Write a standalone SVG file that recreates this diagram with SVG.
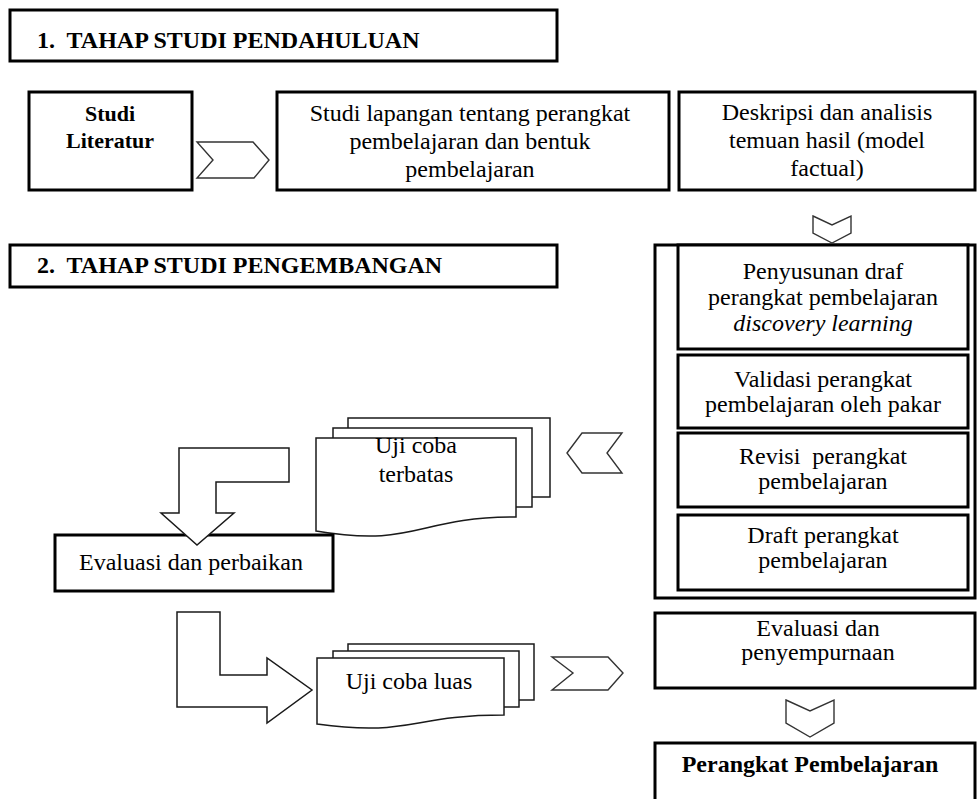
<svg xmlns="http://www.w3.org/2000/svg" width="977" height="799" viewBox="0 0 977 799">
<style>
 text { font-family: 'Liberation Serif', 'Tinos', 'DejaVu Serif', 'Times New Roman', serif; font-size: 24px; fill: #000; }
 .b { font-weight: bold; }
 .c { text-anchor: middle; }
 .i { font-style: italic; }
 .box { fill: #fff; stroke: #000; stroke-width: 3; }
 .doc { fill: #fff; stroke: #1a1a1a; stroke-width: 1.5; }
 .arr { fill: #fff; stroke: #1a1a1a; stroke-width: 1.5; stroke-linejoin: miter; }
 .chev { fill: #fff; stroke: #333; stroke-width: 1.4; stroke-linejoin: miter; }
</style>
<rect width="977" height="799" fill="#fff"/>

<g id="header1">
 <rect class="box" x="10" y="10" width="547" height="51"/>
 <text class="b" x="37" y="48" xml:space="preserve">1.  TAHAP STUDI PENDAHULUAN</text>
</g>

<g id="studi-literatur">
 <rect class="box" x="29" y="92" width="163" height="98"/>
 <text class="b c" x="110" y="121" style="font-size:22px">Studi</text>
 <text class="b c" x="110" y="148" style="font-size:22px">Literatur</text>
</g>

<g id="studi-lapangan">
 <rect class="box" x="277" y="92" width="392" height="98"/>
 <text class="c" x="470" y="121">Studi lapangan tentang perangkat</text>
 <text class="c" x="470" y="149">pembelajaran dan bentuk</text>
 <text class="c" x="470" y="177">pembelajaran</text>
</g>

<g id="deskripsi">
 <rect class="box" x="679" y="92" width="296" height="98"/>
 <text class="c" x="827" y="120">Deskripsi dan analisis</text>
 <text class="c" x="827" y="148">temuan hasil (model</text>
 <text class="c" x="827" y="176">factual)</text>
</g>

<g id="header2">
 <rect class="box" x="10" y="245" width="547" height="42"/>
 <text class="b" x="37" y="273" xml:space="preserve">2.  TAHAP STUDI PENGEMBANGAN</text>
</g>

<g id="pengembangan-column">
 <rect class="box" x="655" y="245" width="320" height="353"/>
</g>

<g id="penyusunan">
 <rect class="box" x="678" y="245" width="290" height="104"/>
 <text class="c" x="823" y="279">Penyusunan draf</text>
 <text class="c" x="823" y="305">perangkat pembelajaran</text>
 <text class="c i" x="823" y="331">discovery learning</text>
</g>

<g id="validasi">
 <rect class="box" x="678" y="355" width="290" height="73"/>
 <text class="c" x="823" y="387">Validasi perangkat</text>
 <text class="c" x="823" y="412">pembelajaran oleh pakar</text>
</g>

<g id="revisi">
 <rect class="box" x="678" y="433" width="290" height="74"/>
 <text class="c" x="823" y="464" xml:space="preserve">Revisi  perangkat</text>
 <text class="c" x="823" y="489">pembelajaran</text>
</g>

<g id="draft">
 <rect class="box" x="678" y="515" width="290" height="75"/>
 <text class="c" x="823" y="543">Draft perangkat</text>
 <text class="c" x="823" y="568">pembelajaran</text>
</g>

<g id="uji-terbatas">
 <rect class="doc" x="348" y="418" width="202" height="79"/>
 <rect class="doc" x="333" y="428" width="199" height="79"/>
 <path class="doc" d="M316,438 H516 V517 C416,517 416,548 316,531 Z"/>
 <text class="c" x="416" y="453">Uji coba</text>
 <text class="c" x="416" y="482">terbatas</text>
</g>

<g id="evaluasi-perbaikan">
 <rect class="box" x="55" y="535" width="278" height="56"/>
 <text x="79" y="570">Evaluasi dan perbaikan</text>
</g>

<g id="uji-luas">
 <rect class="doc" x="348" y="644" width="186" height="56"/>
 <rect class="doc" x="333" y="651" width="186" height="56"/>
 <path class="doc" d="M317,658 H504 V715 C410,715 410,737 317,724 Z"/>
 <text class="c" x="409" y="689">Uji coba luas</text>
</g>

<g id="evaluasi-penyempurnaan">
 <rect class="box" x="655" y="613" width="320" height="75"/>
 <text class="c" x="818" y="636">Evaluasi dan</text>
 <text class="c" x="818" y="660">penyempurnaan</text>
</g>

<g id="perangkat-pembelajaran">
 <rect class="box" x="655" y="743" width="320" height="80"/>
 <text class="b c" x="810" y="772">Perangkat Pembelajaran</text>
</g>

<g id="connectors">
 <polygon class="chev" points="197,142 253,142 269,160 254,178 197,178 213,160"/>
 <polygon class="chev" points="813,216 832,225 851,216 851,233 832,243 813,233"/>
 <polygon class="chev" points="567,453 582,433 622,433 607,453 622,473 582,473"/>
 <polygon class="arr" points="289,448 179,448 179,513 161,513 197,545 234,513 216,513 216,482 289,482"/>
 <polygon class="arr" points="177,612 220,612 220,675 267,675 267,658 312,690 267,723 267,707 177,707"/>
 <polygon class="chev" points="552,657 608,657 623,673 608,690 552,690 573,673"/>
 <polygon class="chev" points="786,700 810,711 834,700 834,723 810,737 786,723"/>
</g>
</svg>
